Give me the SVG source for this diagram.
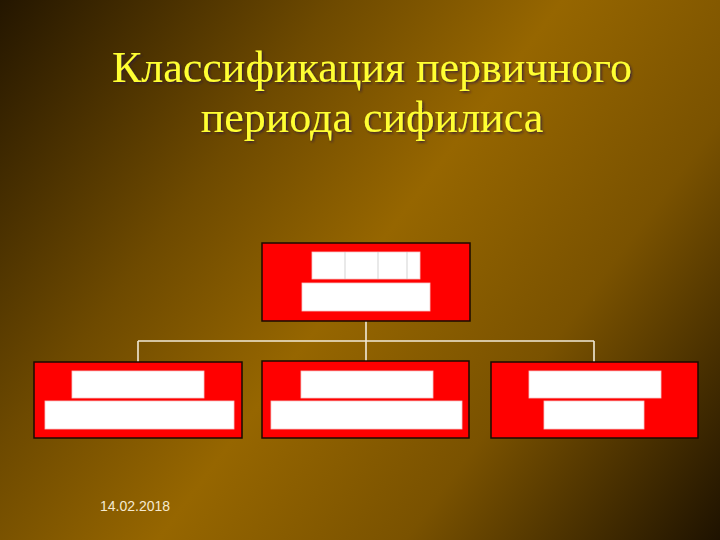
<svg xmlns="http://www.w3.org/2000/svg" width="720" height="540" viewBox="0 0 720 540">
<defs>
<linearGradient id="bg" x1="0" y1="0" x2="720" y2="540" gradientUnits="userSpaceOnUse">
<stop offset="0" stop-color="#241600"/>
<stop offset="0.3" stop-color="#6e4a00"/>
<stop offset="0.5" stop-color="#966600"/>
<stop offset="0.72" stop-color="#7a5200"/>
<stop offset="1" stop-color="#1e1200"/>
</linearGradient>
<filter id="shadow" x="-5%" y="-20%" width="110%" height="140%">
<feDropShadow dx="1.5" dy="1.5" stdDeviation="0.8" flood-color="#2a1440" flood-opacity="0.8"/>
</filter>
<style>
.box{fill:#ff0000;stroke:#1a0a00;stroke-width:1.5}
.cell{fill:#ffffff;stroke:#f4c8c8;stroke-width:0.8}
.div{stroke:#c8c8c8;stroke-width:0.8}
.conn{stroke:#f2ead6;stroke-width:1.6;fill:none}
.title{font-family:"Liberation Serif","Times New Roman",serif;font-size:44px;fill:#ffff33;text-anchor:middle}
.date{font-family:"Liberation Sans",Arial,sans-serif;font-size:14px;fill:#f5ead0}
</style>
</defs>
<rect x="0" y="0" width="720" height="540" fill="url(#bg)"/>
<g id="title" filter="url(#shadow)">
<text class="title" x="372" y="82">Классификация первичного</text>
<text class="title" x="372" y="132">периода сифилиса</text>
</g>
<g id="connectors">
<path class="conn" d="M366 321 V341 M138 341 H594 M138 341 V362 M366 341 V361 M594 341 V362"/>
</g>
<g id="node-top">
<rect class="box" x="262" y="243" width="208" height="78"/>
<rect class="cell" x="312" y="252" width="108" height="27"/>
<path class="div" d="M345 252 V279 M378 252 V279 M407 252 V279"/>
<rect class="cell" x="302" y="283" width="128" height="28"/>
</g>
<g id="node-left">
<rect class="box" x="34" y="362" width="208" height="76"/>
<rect class="cell" x="72" y="371" width="132" height="27"/>
<rect class="cell" x="45" y="401" width="189" height="28"/>
</g>
<g id="node-middle">
<rect class="box" x="262" y="361" width="207" height="77"/>
<rect class="cell" x="301" y="371" width="132" height="27"/>
<rect class="cell" x="271" y="401" width="191" height="28"/>
</g>
<g id="node-right">
<rect class="box" x="491" y="362" width="207" height="76"/>
<rect class="cell" x="529" y="371" width="132" height="27"/>
<rect class="cell" x="544" y="401" width="100" height="28"/>
</g>
<text class="date" x="100" y="511">14.02.2018</text>
</svg>
